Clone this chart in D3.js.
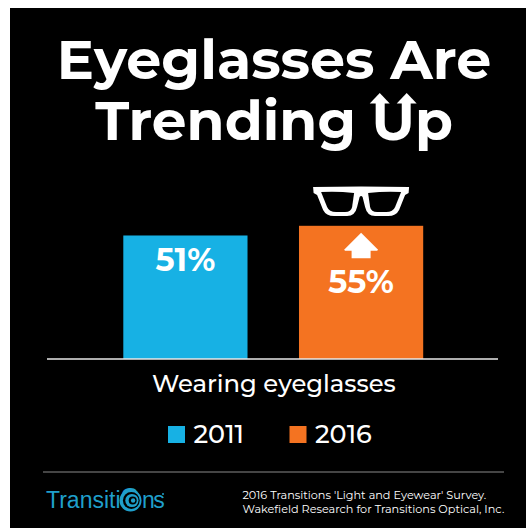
<!DOCTYPE html>
<html>
<head>
<meta charset="utf-8">
<script src="https://cdnjs.cloudflare.com/ajax/libs/d3/7.8.5/d3.min.js"></script>
<style>
  html, body { margin: 0; padding: 0; background: #fff; overflow: hidden; }
  svg { display: block; }
  text { font-family: "Montserrat", "Lato", "Open Sans", sans-serif; fill: #fff; }
</style>
</head>
<body>
<svg id="chart" width="526" height="528"></svg>
<script>
const titleLines = ["Eyeglasses Are", "Trending Up"];
const categoryLabel = "Wearing eyeglasses";
const years = ["2011", "2016"];
const shares = [51, 55];
const barColors = ["#17b1e4", "#f47321"];
const sourceLines = [
  "2016 Transitions 'Light and Eyewear' Survey.",
  "Wakefield Research for Transitions Optical, Inc."
];
const brandColor = "#1f9fcb";

const svg = d3.select("#chart");

svg.append("rect").attr("x", 10).attr("y", 8).attr("width", 516).attr("height", 520).attr("fill", "#000");

// Headline
const titles = svg.selectAll("text.title").data(titleLines).join("text")
  .attr("class", "title")
  .attr("x", 274)
  .attr("y", (d, i) => i === 0 ? 78.5 : 140)
  .attr("text-anchor", "middle")
  .attr("font-size", (d, i) => i === 0 ? 55.5 : 55)
  .attr("font-weight", 700)
  .text(d => d);

// Arrowheads on both stems of the U in "Up"
const secondLine = titles.nodes()[1];
const uBox = secondLine.getExtentOfChar(titleLines[1].indexOf("U"));
const uStemInset = 8.2;
[uBox.x + uStemInset, uBox.x + uBox.width - uStemInset].forEach(cx => {
  svg.append("path")
    .attr("transform", `translate(${cx},93)`)
    .attr("d", "M0,0 L10,10.5 L-10,10.5 Z")
    .attr("fill", "#fff");
});

// Bars sit on a shared baseline; the scale runs from zero
const x = d3.scaleBand().domain(years).range([123.3, 423.2]).paddingInner(0.293).paddingOuter(0);
const y = d3.scaleLinear().domain([0, 55]).range([359, 225.8]);

svg.selectAll("rect.bar").data(shares).join("rect")
  .attr("class", "bar")
  .attr("x", (d, i) => x(years[i]))
  .attr("y", d => y(d))
  .attr("width", x.bandwidth())
  .attr("height", d => y(0) - y(d))
  .attr("fill", (d, i) => barColors[i]);

svg.selectAll("text.value").data(shares).join("text")
  .attr("class", "value")
  .attr("x", (d, i) => x(years[i]) + x.bandwidth() / 2)
  .attr("y", (d, i) => i === 0 ? y(d) + 35.3 : y(d) + 67)
  .attr("text-anchor", "middle")
  .attr("font-size", 32)
  .attr("font-weight", 700)
  .text(d => d + "%");

// Up arrow inside the taller bar
const cx2 = x(years[1]) + x.bandwidth() / 2;
svg.append("path")
  .attr("transform", `translate(${cx2},${y(55)})`)
  .attr("d", "M0,7 L17,24 L16,25 L9.5,25 L9.5,32.5 L-9.5,32.5 L-9.5,25 L-16,25 L-17,24 Z")
  .attr("fill", "#fff");

// Glasses resting above the taller bar
const glasses = svg.append("g").attr("transform", `translate(${cx2},187)`);
glasses.append("path")
  .attr("d", "M-48,0 Q0,-1 48,0 L47.5,6 L44,8 L38,23 Q35,29 27,29 L14,29 Q6,29 4,20 L1.5,10 Q0,8 -1.5,10 L-4,20 Q-6,29 -14,29 L-27,29 Q-35,29 -38,23 L-44,8 L-47.5,6 Z")
  .attr("fill", "#fff");
glasses.selectAll("path.lens").data([-1, 1]).join("path")
  .attr("class", "lens")
  .attr("transform", d => `scale(${d},1)`)
  .attr("d", "M7,6 Q24,4 40,5 L34,20 Q32,25 25,25 L16,25 Q10,25 9,20 Z")
  .attr("fill", "#000");

// Baseline
svg.append("line").attr("x1", 47).attr("x2", 498).attr("y1", 359).attr("y2", 359)
  .attr("stroke", "#e8e8e8").attr("stroke-width", 1.5);

svg.append("text").attr("x", 273.8).attr("y", 392.3)
  .attr("text-anchor", "middle").attr("font-size", 24.3).attr("font-weight", 500)
  .text(categoryLabel);

// Legend
const legendX = [168, 289.5];
const legend = svg.selectAll("g.legend").data(years).join("g")
  .attr("class", "legend")
  .attr("transform", (d, i) => `translate(${legendX[i]},426)`);
legend.append("rect").attr("width", 17).attr("height", 17).attr("fill", (d, i) => barColors[i]);
legend.append("text").attr("x", 25.5).attr("y", 17).attr("font-size", 25.5).attr("font-weight", 500).text(d => d);

// Footer rule, brand and source
svg.append("line").attr("x1", 43).attr("x2", 504).attr("y1", 472).attr("y2", 472)
  .attr("stroke", "#8a8a8a").attr("stroke-width", 1.2);

const brand = svg.append("text").attr("y", 507.5)
  .attr("font-size", 23)
  .style("font-family", "'Liberation Sans', sans-serif")
  .style("fill", brandColor);
brand.append("tspan").attr("x", 46).style("fill", brandColor).text("Transiti");
brand.append("tspan").attr("x", 120).attr("font-size", 36).style("fill", brandColor).text("o");
brand.append("tspan").attr("x", 142).attr("letter-spacing", -1.5).style("fill", brandColor).text("ns");

// Swirl standing in for the brand's letter o
const swirl = svg.append("g").attr("transform", "translate(130.5,500.5)");
swirl.append("circle").attr("r", 11).attr("fill", brandColor);
swirl.append("circle").attr("cx", 0.8).attr("r", 8.4).attr("fill", "#000");
swirl.append("circle").attr("cx", 1.4).attr("r", 6.6).attr("fill", brandColor);
swirl.append("circle").attr("cx", 2.2).attr("r", 4).attr("fill", "#000");
swirl.append("circle").attr("cx", 2.6).attr("r", 2.2).attr("fill", brandColor);

svg.append("circle").attr("cx", 163).attr("cy", 494).attr("r", 1).attr("fill", brandColor);

svg.selectAll("text.source").data(sourceLines).join("text")
  .attr("class", "source")
  .attr("x", 242.5).attr("y", (d, i) => 499.3 + i * 13.5)
  .attr("font-size", 11.25).text(d => d);
</script>
</body>
</html>
